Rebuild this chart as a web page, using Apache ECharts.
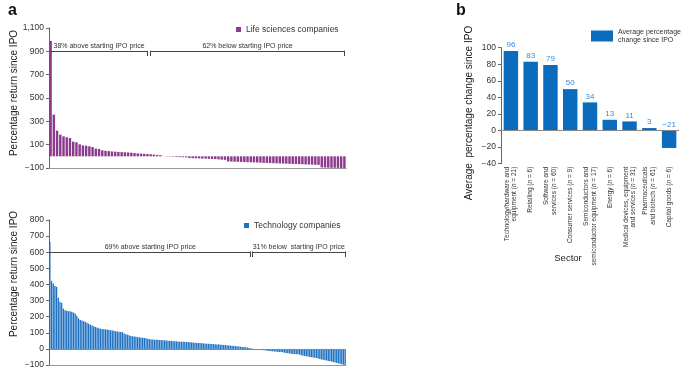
<!DOCTYPE html>
<html>
<head>
<meta charset="utf-8">
<script src="https://cdn.jsdelivr.net/npm/echarts@6/dist/echarts.min.js"></script>
<style>
  html, body { margin: 0; padding: 0; background: #fff; }
  #main { width: 685px; height: 375px; }
</style>
</head>
<body>
<div id="main"></div>
<script>
// a, top: life sciences companies ranked by return since IPO (%)
const lifeValues = [
  990, 357, 220, 186, 171, 163, 157, 126, 120, 103, 94, 91, 86, 80, 66, 63, 51, 47, 45, 42,
  40, 38, 36, 35, 33, 31, 28, 25, 23, 21, 20, 18, 15, 12, 10,
  -1, -2, -3, -4, -6, -7, -8, -9,
  -15, -16, -17, -18, -19, -20, -21, -22, -24, -26, -28, -30,
  -44, -45, -46, -47, -48, -49, -50, -51, -52, -53, -54,
  -56, -57, -58, -59, -60, -61, -62, -63, -64, -65, -66, -67, -68, -69, -70, -71, -72, -73,
  -95, -96, -97, -98, -98, -99, -100, -100
];
// a, bottom: technology companies
const techValues = [
  665, 422, 406, 390, 385, 317, 292, 286, 250, 240, 236, 234, 233, 230, 225, 219, 205, 190, 180, 176,
  172, 168, 162, 156, 150, 145, 140, 136, 132, 128, 125, 123, 122, 121, 120, 118, 116, 114, 112, 110,
  108, 106, 105, 104, 95, 91, 88, 84, 80, 78, 77, 75, 73, 72, 71, 69, 68, 66, 63, 61, 59, 58,
  57, 56, 56, 55, 55, 54, 53, 52, 51, 50, 50, 49, 48, 47, 46, 45, 45, 44, 43, 42, 42, 41, 40, 40,
  38, 37, 36, 36, 35, 34, 33, 32, 32, 31, 30, 30, 29, 28, 28,
  26, 25, 24, 23, 22, 21, 20, 19, 18, 17, 16, 15, 14, 12, 11, 10, 8, 6, 4, 2,
  -2, -3, -4, -5, -6, -8, -9, -10,
  -12, -13, -14, -15, -16, -17, -18, -19, -20, -21,
  -24, -25, -27, -28, -30, -31, -32, -33, -34, -35,
  -40, -42, -44, -46, -48, -50, -52, -53, -55, -56,
  -60, -63, -66, -68, -70, -72, -75, -77, -79,
  -82, -85, -88, -90, -92, -95, -98, -100
];
const lifeCats = lifeValues.map((v, i) => String(i + 1));
const techCats = techValues.map((v, i) => String(i + 1));

// b: average change by sector
const sectorNames = [
  'Technology/hardware and\nequipment ({i|n} = 21)',
  'Retailing ({i|n} = 6)',
  'Software and\nservices ({i|n} = 60)',
  'Consumer services ({i|n} = 9)',
  'Semiconductors and\nsemiconductor equipment ({i|n} = 17)',
  'Energy ({i|n} = 6)',
  'Medical devices, equipment\nand services ({i|n} = 31)',
  'Pharmaceuticals\nand biotech ({i|n} = 61)',
  'Capital goods ({i|n} = 6)'
];
const sectorValues = [96, 83, 79, 50, 34, 13, 11, 3, -21];

const lifeTicks = [-100, 100, 300, 500, 700, 900, 1100];
const techTicks = [-100, 0, 100, 200, 300, 400, 500, 600, 700, 800];
const sectorTicks = [-40, -20, 0, 20, 40, 60, 80, 100];

const FONT = 'Liberation Sans, Arial, Helvetica, sans-serif';
const TXT = '#333';
const minus = v => String(v).replace('-', '\u2212');

// bracket line with split tick and two captions (data coords)
function bracket(level, split, last, lo, hi, leftText, rightText) {
  const lab = t => ({ show: true, formatter: t, position: 'insideMiddleTop', distance: 2,
    color: TXT, fontSize: 7, fontFamily: FONT });
  return [
    [{ coord: [0, level], label: lab(leftText) }, { coord: [split, level] }],
    [{ coord: [split + 1, level], label: lab(rightText) }, { coord: [last, level] }],
    [{ coord: [split, lo] }, { coord: [split, hi] }],
    [{ coord: [split + 1, lo] }, { coord: [split + 1, hi] }],
    [{ coord: [last, lo] }, { coord: [last, hi] }]
  ];
}

function valueAxis(gridIndex, ticks, fmt) {
  return {
    type: 'value', gridIndex: gridIndex,
    min: ticks[0], max: ticks[ticks.length - 1],
    interval: ticks[1] - ticks[0],
    axisLine: { show: true, lineStyle: { color: '#666', width: 1 } },
    axisTick: { show: true, length: 3, lineStyle: { color: '#666' } },
    splitLine: { show: false },
    axisLabel: { color: TXT, fontSize: 8.5, fontFamily: FONT, margin: 5, formatter: fmt }
  };
}

const chart = echarts.init(document.getElementById('main'));

const option = {
  animation: false,
  textStyle: { fontFamily: FONT },
  grid: [
    { left: 49, top: 28, width: 297, height: 140, outerBoundsMode: 'none' },
    { left: 49, top: 220, width: 297, height: 145, outerBoundsMode: 'none' },
    { left: 501, top: 47.7, width: 178, height: 116, outerBoundsMode: 'none' }
  ],
  legend: [
    {
      data: ['Life sciences companies'], left: 236, top: 25, padding: 0,
      icon: 'rect', itemWidth: 5, itemHeight: 5, itemGap: 4,
      textStyle: { color: TXT, fontSize: 8.5, fontFamily: FONT }
    },
    {
      data: ['Technology companies'], left: 244, top: 221, padding: 0,
      icon: 'rect', itemWidth: 5, itemHeight: 5, itemGap: 4,
      textStyle: { color: TXT, fontSize: 8.5, fontFamily: FONT }
    },
    {
      data: ['Average percentage change since IPO'], left: 591, top: 28, padding: 0,
      icon: 'rect', itemWidth: 22, itemHeight: 11,
      formatter: () => 'Average percentage\nchange since IPO',
      textStyle: { color: TXT, fontSize: 7, lineHeight: 8, fontFamily: FONT }
    }
  ],
  xAxis: [
    {
      type: 'category', gridIndex: 0, data: lifeCats,
      axisLine: { show: true, onZero: false, lineStyle: { color: '#999' } },
      axisTick: { show: false }, axisLabel: { show: false }
    },
    {
      type: 'category', gridIndex: 1, data: techCats,
      axisLine: { show: true, onZero: false, lineStyle: { color: '#999' } },
      axisTick: { show: false }, axisLabel: { show: false }
    },
    {
      type: 'category', gridIndex: 2, data: sectorNames,
      axisLine: { show: false, onZero: false },
      axisTick: { show: false },
      axisLabel: {
        interval: 0, rotate: 90, margin: 3, color: TXT,
        fontSize: 6.5, lineHeight: 7.5, fontFamily: FONT,
        rich: { i: { fontStyle: 'italic', fontSize: 6.5, lineHeight: 7.5, color: TXT, fontFamily: FONT } }
      }
    }
  ],
  yAxis: [
    valueAxis(0, lifeTicks, v => minus(v.toLocaleString('en-US'))),
    valueAxis(1, techTicks, v => minus(v)),
    valueAxis(2, sectorTicks, v => minus(v))
  ],
  series: [
    {
      type: 'bar', name: 'Life sciences companies', xAxisIndex: 0, yAxisIndex: 0,
      data: lifeValues, barCategoryGap: '25%',
      itemStyle: { color: '#8b3a8c' },
      markLine: {
        silent: true, symbol: 'none', animation: false,
        label: { show: false },
        lineStyle: { color: '#444', width: 1, type: 'solid' },
        data: bracket(900, 30, lifeValues.length - 1, 860, 905,
          '38% above starting IPO price', '62% below starting IPO price')
      }
    },
    {
      type: 'bar', name: 'Technology companies', xAxisIndex: 1, yAxisIndex: 1,
      data: techValues, barCategoryGap: '20%',
      itemStyle: { color: '#1f72c2' },
      markLine: {
        silent: true, symbol: 'none', animation: false,
        label: { show: false },
        lineStyle: { color: '#444', width: 1, type: 'solid' },
        data: bracket(600, 119, techValues.length - 1, 570, 605,
          '69% above starting IPO price', '31% below  starting IPO price')
          .concat([{ yAxis: 0, lineStyle: { color: '#888' } }])
      }
    },
    {
      type: 'bar', name: 'Average percentage change since IPO', xAxisIndex: 2, yAxisIndex: 2,
      data: sectorValues, barCategoryGap: '27%',
      itemStyle: { color: '#0b6bbd' },
      label: {
        show: true, position: 'top', distance: 2, color: '#3a8ad6',
        fontSize: 8, fontFamily: FONT, formatter: p => minus(p.value)
      },
      markLine: {
        silent: true, symbol: 'none', animation: false,
        label: { show: false },
        lineStyle: { color: '#888', width: 1, type: 'solid' },
        data: [{ yAxis: 0 }]
      }
    }
  ],
  graphic: [
    { type: 'text', left: 8, top: 3, style: { text: 'a', fontSize: 16, fontWeight: 'bold', fill: '#111', fontFamily: FONT } },
    { type: 'text', left: 456, top: 3, style: { text: 'b', fontSize: 16, fontWeight: 'bold', fill: '#111', fontFamily: FONT } },
    { type: 'text', x: 14, y: 93, rotation: Math.PI / 2,
      style: { text: 'Percentage return since IPO', fontSize: 10, fill: '#222', align: 'center', verticalAlign: 'middle', fontFamily: FONT } },
    { type: 'text', x: 14, y: 274, rotation: Math.PI / 2,
      style: { text: 'Percentage return since IPO', fontSize: 10, fill: '#222', align: 'center', verticalAlign: 'middle', fontFamily: FONT } },
    { type: 'text', x: 469, y: 113, rotation: Math.PI / 2,
      style: { text: 'Average  percentage change since IPO', fontSize: 10, fill: '#222', align: 'center', verticalAlign: 'middle', fontFamily: FONT } },
    { type: 'text', x: 568, y: 258,
      style: { text: 'Sector', fontSize: 9.5, fill: '#222', align: 'center', verticalAlign: 'middle', fontFamily: FONT } }
  ]
};

chart.setOption(option);
</script>
</body>
</html>
